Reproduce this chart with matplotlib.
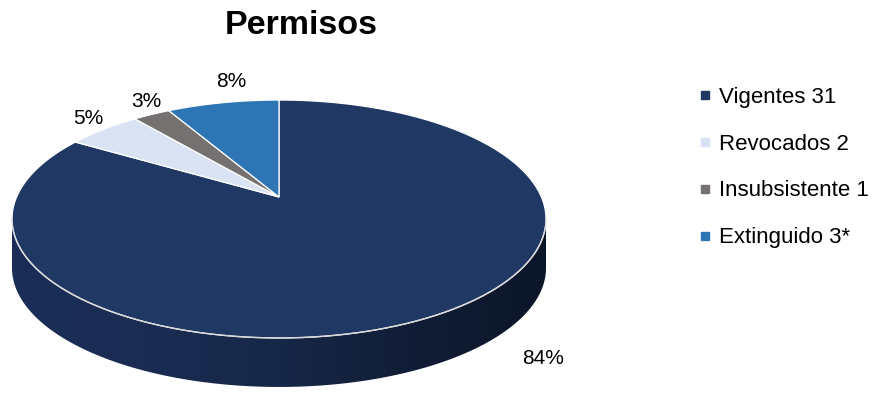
import numpy as np
import matplotlib
matplotlib.use("Agg")
import matplotlib.pyplot as plt
from matplotlib.patches import Polygon
from matplotlib.lines import Line2D
from matplotlib.colors import LinearSegmentedColormap

plt.rcParams['font.family'] = ['Liberation Sans', 'DejaVu Sans']

# permit counts by status
categories = ['Vigentes', 'Revocados', 'Insubsistente', 'Extinguido']
counts = [31, 2, 1, 3]
legend_labels = ['Vigentes 31', 'Revocados 2', 'Insubsistente 1', 'Extinguido 3*']
colors = ['#1f3864', '#dae3f3', '#767171', '#2e75b6']

# pie geometry in pixel units (perspective tilted disk)
CX, CY = 279.0, 197.0
A, B, K = 262.4, 114.9, 0.1849
H = 49.0


def to_screen(theta, r=1.0):
    # theta: clockwise angle from 12 o'clock, in radians
    u = r * np.sin(theta)
    v = r * np.cos(theta)
    w = 1 + K * v
    return CX + A * u / w, CY - B * v / w


fig = plt.figure(figsize=(8.72, 3.94), dpi=100)
ax = fig.add_axes([0, 0, 1, 1])
ax.set_xlim(0, 872)
ax.set_ylim(394, 0)
ax.axis('off')

# side wall of the disk (front half)
t_left = np.arccos(-K)
t_right = 2 * np.pi - np.arccos(-K)
tt = np.linspace(t_left, t_right, 200)
fx, fy = to_screen(tt)
side_xy = np.vstack([np.column_stack([fx, fy]),
                     np.column_stack([fx[::-1], fy[::-1] + H])])
side = Polygon(side_xy, closed=True, facecolor='none', edgecolor='none')
ax.add_patch(side)
side_cmap = LinearSegmentedColormap.from_list(
    'side', ['#1b2e57', '#1a2c52', '#172748', '#111d36', '#0c1629'])
grad = np.linspace(0, 1, 256).reshape(1, -1)
im = ax.imshow(grad, cmap=side_cmap, aspect='auto',
               extent=(fx.min(), fx.max(), fy.max() + H, fy.min()),
               origin='upper', zorder=1)
im.set_clip_path(side)

# top faces of the slices
total = sum(counts)
fracs = [c / total for c in counts]
edges = np.concatenate([[0], np.cumsum(fracs)]) * 2 * np.pi
for i, col in enumerate(colors):
    ts = np.linspace(edges[i], edges[i + 1], 150)
    px, py = to_screen(ts)
    pts = np.vstack([[CX, CY], np.column_stack([px, py])])
    ax.add_patch(Polygon(pts, closed=True, facecolor=col,
                         edgecolor='white', linewidth=0.9, zorder=2))

# light rim along the front edge
ax.plot(fx, fy, color='#d9d9d9', linewidth=1.0, zorder=3)

# percentage labels
label_offsets = [(111, 42), (-15, -11), (-5, -13), (8, -21)]
for i, f in enumerate(fracs):
    mid = (edges[i] + edges[i + 1]) / 2
    lx, ly = to_screen(mid)
    dx, dy = label_offsets[i]
    ax.text(lx + dx, ly + dy, f'{f * 100:.0f}%', fontsize=15,
            ha='center', va='center', color='#000000', zorder=4)

ax.text(301, 25, 'Permisos', fontsize=24.5, fontweight='bold',
        ha='center', va='center')

handles = [Line2D([], [], linestyle='none', marker='s', markersize=6,
                  markerfacecolor=c, markeredgecolor=c) for c in colors]
ax.legend(handles, legend_labels, loc='center left',
          bbox_to_anchor=(698.5, 167.5), bbox_transform=ax.transData,
          frameon=False, fontsize=16, handlelength=0.6,
          handletextpad=0.3, labelspacing=1.17, borderpad=0,
          borderaxespad=0)

fig.savefig('out.png', dpi=100)
